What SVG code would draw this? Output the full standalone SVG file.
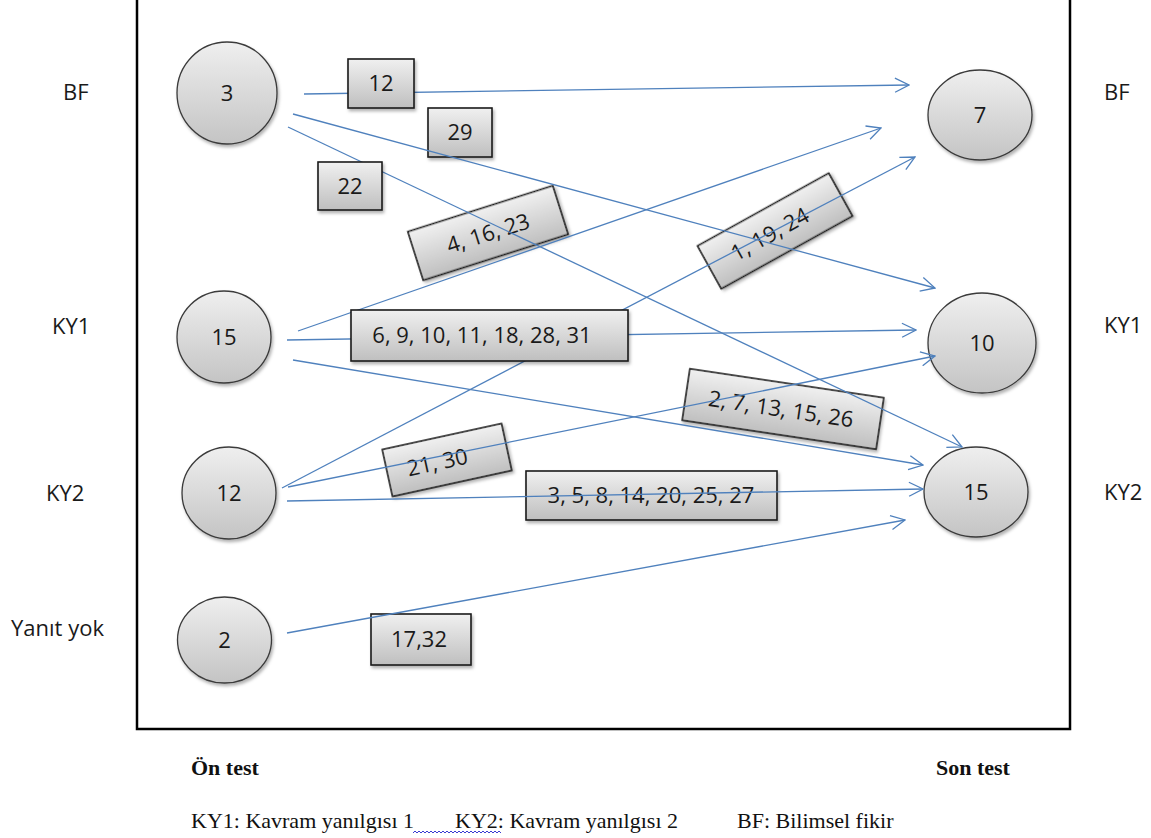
<svg xmlns="http://www.w3.org/2000/svg" width="1151" height="838" viewBox="0 0 1151 838">
<defs>
<linearGradient id="gC" x1="0" y1="0" x2="0" y2="1">
<stop offset="0" stop-color="#efefef"/>
<stop offset="1" stop-color="#c4c4c4"/>
</linearGradient>
<linearGradient id="gB" x1="0" y1="0" x2="0" y2="1">
<stop offset="0" stop-color="#f0f0f0"/>
<stop offset="1" stop-color="#bfbfbf"/>
</linearGradient>
<filter id="sh" x="-20%" y="-20%" width="150%" height="150%">
<feDropShadow dx="1.5" dy="2.5" stdDeviation="1.5" flood-color="#000" flood-opacity="0.3"/>
</filter>
<marker id="arr" viewBox="0 0 16 16" markerWidth="16" markerHeight="16" refX="15" refY="8" orient="auto" markerUnits="userSpaceOnUse">
<path d="M1,1 L15,8 L1,15" fill="none" stroke="#4f81bd" stroke-width="1.3"/>
</marker>
</defs>
<style>
.node{fill:url(#gC);stroke:#3a3a3a;stroke-width:1.3;filter:url(#sh)}
.box{fill:url(#gB);stroke:#1a1a1a;stroke-width:1.6;filter:url(#sh)}
.num{font-family:"Open Sans","Noto Sans",sans-serif;font-size:22px;fill:#1a1a1a;text-anchor:middle}
.lbl{font-family:"Open Sans","Noto Sans",sans-serif;font-size:22px;fill:#1a1a1a}
.ser{font-family:"Liberation Serif","Times New Roman",serif;font-size:22px;fill:#111}
.bold{font-weight:bold}
.con line{stroke:#4f81bd;stroke-width:1.3;fill:none;marker-end:url(#arr)}
</style>
<rect width="1151" height="838" fill="#fff"/>
<rect id="frame" x="137" y="-10" width="933" height="739" fill="none" stroke="#000" stroke-width="2.5"/>

<g id="side-labels">
<text class="lbl" x="63" y="100">BF</text>
<text class="lbl" x="52" y="334">KY1</text>
<text class="lbl" x="46" y="501">KY2</text>
<text class="lbl" x="11" y="636">Yanıt yok</text>
<text class="lbl" x="1104" y="100">BF</text>
<text class="lbl" x="1104" y="333">KY1</text>
<text class="lbl" x="1104" y="500">KY2</text>
</g>

<g id="pre-bf"><ellipse class="node" cx="227" cy="93" rx="50" ry="51"/><text class="num" x="227" y="101">3</text></g>
<g id="pre-ky1"><ellipse class="node" cx="224" cy="337" rx="47" ry="46"/><text class="num" x="224" y="345">15</text></g>
<g id="pre-ky2"><ellipse class="node" cx="229" cy="493" rx="47" ry="46"/><text class="num" x="229" y="501">12</text></g>
<g id="pre-none"><ellipse class="node" cx="224.5" cy="640" rx="47" ry="43"/><text class="num" x="224.5" y="648">2</text></g>
<g id="post-bf"><ellipse class="node" cx="980" cy="115" rx="52" ry="45"/><text class="num" x="980" y="123">7</text></g>
<g id="post-ky1"><ellipse class="node" cx="982" cy="343" rx="54" ry="50"/><text class="num" x="982" y="351">10</text></g>
<g id="post-ky2"><ellipse class="node" cx="976" cy="492" rx="52" ry="45"/><text class="num" x="976" y="500">15</text></g>

<g id="lbl-29"><rect class="box" x="428" y="108" width="64" height="49"/><text class="num" x="460" y="140">29</text></g>
<g id="lbl-4-16-23" transform="translate(488,233) rotate(-17.6)"><rect class="box" x="-76" y="-25.5" width="152" height="51"/><text class="num" x="0" y="8">4, 16, 23</text></g>
<g id="lbl-1-19-24" transform="translate(775,231) rotate(-29)"><rect class="box" x="-75" y="-24.5" width="150" height="49"/><text class="num" x="-6" y="8">1, 19, 24</text></g>
<g id="lbl-21-30" transform="translate(447,460) rotate(-12.3)"><rect class="box" x="-61" y="-24" width="122" height="48"/><text class="num" x="-10" y="8">21, 30</text></g>
<g id="lbl-2-7-13-15-26" transform="translate(783,409) rotate(8.5)"><rect class="box" x="-98" y="-26" width="196" height="52"/><text class="num" x="-2" y="8">2, 7, 13, 15, 26</text></g>
<g id="lbl-3-5-8"><rect class="box" x="526" y="471" width="251" height="49"/><text class="num" x="651" y="503">3, 5, 8, 14, 20, 25, 27</text></g>
<g id="lbl-17-32"><rect class="box" x="371" y="614" width="100" height="51"/><text class="num" x="419" y="647">17,32</text></g>

<g id="connectors" class="con">
<line x1="304" y1="94" x2="909" y2="85"/>
<line x1="293" y1="114" x2="935" y2="288"/>
<line x1="288" y1="127" x2="962" y2="447"/>
<line x1="298" y1="331" x2="881" y2="128"/>
<line x1="287" y1="340" x2="916" y2="330"/>
<line x1="293" y1="360" x2="923" y2="465"/>
<line x1="282" y1="488" x2="915" y2="157"/>
<line x1="288" y1="487" x2="935" y2="356"/>
<line x1="287" y1="501" x2="923" y2="489"/>
<line x1="287" y1="633" x2="905" y2="520"/>
</g>

<g id="lbl-12"><rect class="box" x="348" y="59" width="66" height="49"/><text class="num" x="381" y="91">12</text></g>
<g id="lbl-22"><rect class="box" x="318" y="162" width="64" height="48"/><text class="num" x="350" y="194">22</text></g>
<g id="lbl-6-9"><rect class="box" x="351" y="310" width="277" height="51"/><text class="num" x="482" y="343">6, 9, 10, 11, 18, 28, 31</text></g>

<g id="legend">
<text class="ser bold" x="191" y="775">Ön test</text>
<text class="ser bold" x="936" y="775">Son test</text>
<text class="ser" x="191" y="828">KY1: Kavram yanılgısı 1</text>
<text class="ser" x="455" y="828">KY2: Kavram yanılgısı 2</text>
<text class="ser" x="737" y="828">BF: Bilimsel fikir</text>
<path d="M413,833 l2,-2 l2,2 l2,-2 l2,2 l2,-2 l2,2 l2,-2 l2,2 l2,-2 l2,2 l2,-2 l2,2 l2,-2 l2,2 l2,-2 l2,2 l2,-2 l2,2 l2,-2 l2,2 l2,-2 l2,2 l2,-2 l2,2 l2,-2 l2,2 l2,-2 l2,2 l2,-2 l2,2 l2,-2 l2,2 l2,-2 l2,2 l2,-2 l2,2 l2,-2 l2,2 l2,-2 l2,2 l2,-2 l2,2 l2,-2 l2,2" fill="none" stroke="#3b3bd0" stroke-width="1"/>
</g>
</svg>
